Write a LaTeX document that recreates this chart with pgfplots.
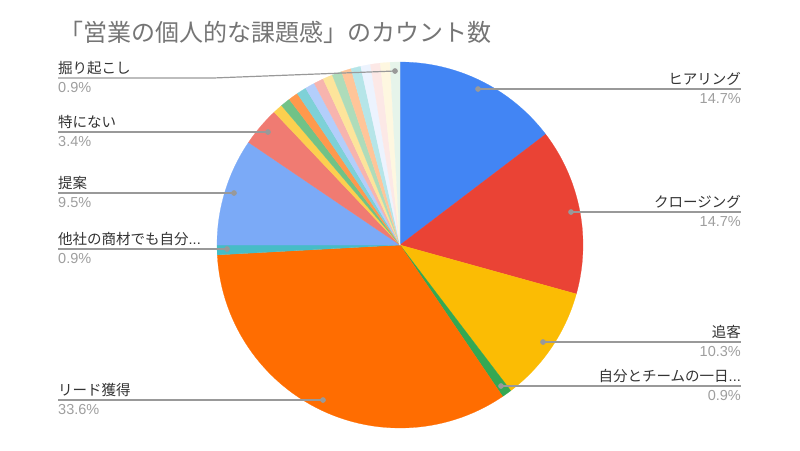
\documentclass[border=0pt]{standalone}
\usepackage{pgfplots}
\pgfplotsset{compat=1.18}
\usepackage{pgfplotstable}
\usepackage{fontspec}
\setmainfont{Liberation Sans}
\newfontfamily\cjk{Noto Sans CJK JP}
\definecolor{c1}{HTML}{4285F4}
\definecolor{c2}{HTML}{EA4335}
\definecolor{c3}{HTML}{FBBC04}
\definecolor{c4}{HTML}{34A853}
\definecolor{c5}{HTML}{FF6D01}
\definecolor{c6}{HTML}{46BDC6}
\definecolor{c7}{HTML}{7BAAF7}
\definecolor{c8}{HTML}{F07B72}
\definecolor{c9}{HTML}{FCD04F}
\definecolor{c10}{HTML}{71C287}
\definecolor{c11}{HTML}{FF994D}
\definecolor{c12}{HTML}{7ED1D7}
\definecolor{c13}{HTML}{B3CEFB}
\definecolor{c14}{HTML}{F7B4AE}
\definecolor{c15}{HTML}{FDE49B}
\definecolor{c16}{HTML}{AEDCBA}
\definecolor{c17}{HTML}{FFC599}
\definecolor{c18}{HTML}{B5E5E8}
\definecolor{c19}{HTML}{ECF3FE}
\definecolor{c20}{HTML}{FCE8E6}
\definecolor{c21}{HTML}{FEF7E0}
\definecolor{c22}{HTML}{E6F4EA}
\definecolor{txt}{HTML}{333333}
\definecolor{pct}{HTML}{9E9E9E}
\definecolor{ttl}{HTML}{757575}
\definecolor{lc}{HTML}{999999}
% counts (total 116)
\pgfplotstableread{
count color
17 c1
17 c2
12 c3
1 c4
39 c5
1 c6
11 c7
4 c8
1 c9
1 c10
1 c11
1 c12
1 c13
1 c14
1 c15
1 c16
1 c17
1 c18
1 c19
1 c20
1 c21
1 c22
}\piedata
\newcommand\namefont{\cjk\fontsize{14.5}{16}\selectfont\color{txt}}
\newcommand\pctfont{\fontsize{14.5}{16}\selectfont\color{pct}}
\newcommand\leftlab[4]{%
  \addplot[lc, line width=1.2pt, mark=*, mark indices={2}, mark size=2.2pt, mark options={fill=lc, draw=lc}] coordinates {(58,#1) (#2,#1)};
  \node[anchor=base west, inner sep=0pt, yshift=5pt] at (axis cs:58,#1) {\namefont #3};
  \node[anchor=base west, inner sep=0pt, yshift=-14pt] at (axis cs:58,#1) {\pctfont #4};
}
\newcommand\rightlab[4]{%
  \addplot[lc, line width=1.2pt, mark=*, mark indices={1}, mark size=2.2pt, mark options={fill=lc, draw=lc}] coordinates {(#2,#1) (741,#1)};
  \node[anchor=base east, inner sep=0pt, yshift=5pt] at (axis cs:741,#1) {\namefont #3};
  \node[anchor=base east, inner sep=0pt, yshift=-14pt] at (axis cs:741,#1) {\pctfont #4};
}
\begin{document}
\begin{tikzpicture}
\path (0,0) rectangle (800pt,-450pt);
\begin{axis}[at={(0,0)}, anchor=north west, scale only axis, width=800pt, height=450pt,
  xmin=0, xmax=800, ymin=0, ymax=450, y dir=reverse, hide axis, clip=false]
\def\cum{0}
\pgfplotsforeachungrouped \i in {0,...,21} {%
  \pgfplotstablegetelem{\i}{count}\of\piedata \let\cnt\pgfplotsretval
  \pgfplotstablegetelem{\i}{color}\of\piedata \let\col\pgfplotsretval
  \pgfmathsetmacro\a{\cum/116*360}%
  \pgfmathsetmacro\cum{\cum+\cnt}%
  \pgfmathsetmacro\b{\cum/116*360}%
  \edef\tmp{\noexpand\addplot[fill=\col, draw=\col, line width=0.2pt, domain=\a:\b, samples=60] ({400+183*sin(x)},{245-183*cos(x)}) -- (axis cs:400,245) -- cycle;}%
  \tmp
}
% title
\node[anchor=base west, inner sep=0pt] at (axis cs:59,41) {\cjk\fontsize{24}{28}\selectfont\color{ttl}「営業の個人的な課題感」のカウント数};
% left labels
\addplot[lc, line width=1.2pt, mark=*, mark indices={3}, mark size=2.2pt, mark options={fill=lc, draw=lc}] coordinates {(58,78) (213,78) (395,71)};
\node[anchor=base west, inner sep=0pt, yshift=5pt] at (axis cs:58,78) {\namefont 掘り起こし};
\node[anchor=base west, inner sep=0pt, yshift=-14pt] at (axis cs:58,78) {\pctfont 0.9\%};
\leftlab{132}{268}{特にない}{3.4\%}
\leftlab{193}{234}{提案}{9.5\%}
\leftlab{249}{227}{他社の商材でも自分{\fontspec{Liberation Sans}...}}{0.9\%}
\leftlab{400}{323}{リード獲得}{33.6\%}
% right labels
\rightlab{89}{478}{ヒアリング}{14.7\%}
\rightlab{212}{571}{クロージング}{14.7\%}
\rightlab{342}{543}{追客}{10.3\%}
\rightlab{386}{501}{自分とチームの一日{\fontspec{Liberation Sans}...}}{0.9\%}
\end{axis}
\end{tikzpicture}
\end{document}
